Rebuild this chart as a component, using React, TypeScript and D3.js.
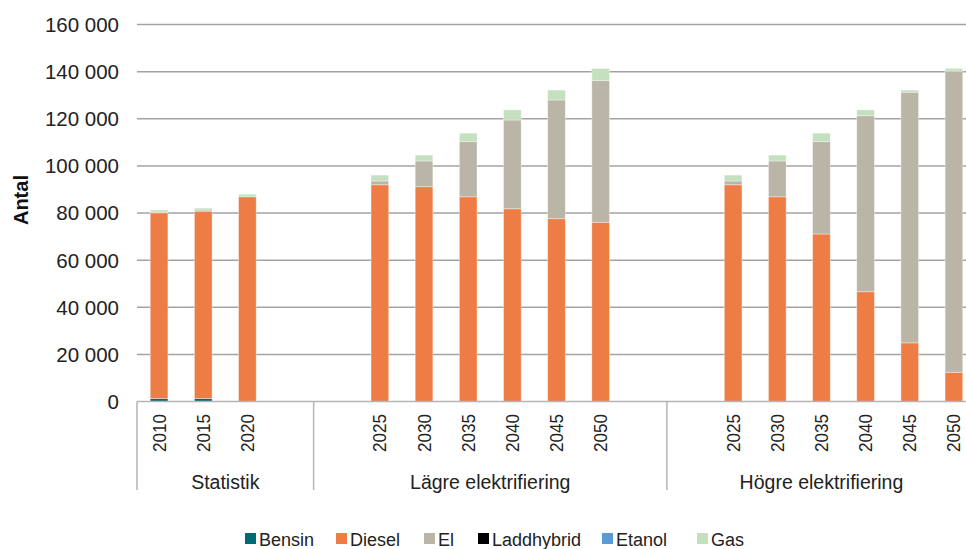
import React from 'react'
import * as d3 from 'd3'

// slot keys along the x axis, blanks keep the gaps between groups
const slots = [
  'S2010', 'S2015', 'S2020', 'gapA',
  'gapB', 'L2025', 'L2030', 'L2035', 'L2040', 'L2045', 'L2050', 'gapC',
  'gapD', 'H2025', 'H2030', 'H2035', 'H2040', 'H2045', 'H2050',
];

const categories = [
  'S2010', 'S2015', 'S2020',
  'L2025', 'L2030', 'L2035', 'L2040', 'L2045', 'L2050',
  'H2025', 'H2030', 'H2035', 'H2040', 'H2045', 'H2050',
];
const yearLabels = [
  '2010', '2015', '2020',
  '2025', '2030', '2035', '2040', '2045', '2050',
  '2025', '2030', '2035', '2040', '2045', '2050',
];

const groupNames = ['Statistik', 'Lägre elektrifiering', 'Högre elektrifiering'];
const groupFirst = ['S2010', 'gapB', 'gapD'];
const groupLast = ['gapA', 'gapC', 'H2050'];

const bensin = [1300, 1300, 0, 0, 0, 0, 0, 0, 0, 0, 0, 0, 0, 0, 0];
const diesel = [78800, 79500, 86900, 92000, 91200, 86900, 81800, 77600, 76100, 92000, 86900, 71100, 46600, 24900, 12400];
const el = [300, 500, 0, 1600, 10900, 23400, 37700, 50400, 60100, 1600, 15200, 39200, 74700, 106400, 127900];
const laddhybrid = [0, 0, 0, 0, 0, 0, 0, 0, 0, 0, 0, 0, 0, 0, 0];
const etanol = [0, 0, 0, 0, 0, 0, 0, 0, 0, 0, 0, 0, 0, 0, 0];
const gas = [900, 800, 1100, 2500, 2500, 3600, 4300, 4200, 5200, 2500, 2500, 3600, 2500, 900, 1100];

const seriesNames = ['Bensin', 'Diesel', 'El', 'Laddhybrid', 'Etanol', 'Gas'];
const seriesValues = [bensin, diesel, el, laddhybrid, etanol, gas];
const seriesColors = ['#006b75', '#ee7d45', '#bbb5a8', '#000000', '#5b9bd5', '#c5e0bf'];

const yTicks = [0, 20000, 40000, 60000, 80000, 100000, 120000, 140000, 160000];

const width = 966;
const height = 549;
const left = 137;
const right = 976;
const top = 24.6;
const bottom = 401.5;
const font = '"Liberation Sans", Arial, sans-serif';
const textColor = '#222';

const locale = d3.formatLocale({ decimal: ',', thousands: ' ', grouping: [3], currency: ['', ''] });
const fmt = locale.format(',');

const table = categories.map((c, i) => {
  const row: any = { cat: c };
  seriesNames.forEach((s, j) => { row[s] = seriesValues[j][i]; });
  return row;
});

const stack = d3.stack().keys(seriesNames)(table as any);

const x = d3.scaleBand<string>()
  .domain(slots)
  .range([left, right])
  .paddingInner(0.6)
  .paddingOuter(0.3);

const y = d3.scaleLinear().domain([0, 160000]).range([bottom, top]);

const step = x.step();
const slotStart = (k: string) => (x(k) as number) + x.bandwidth() / 2 - step / 2;

const legendX = [245, 336, 424, 478, 602, 697];

const App = () => (
  <svg
    width={width}
    height={height}
    style={{ position: 'fixed', left: 0, top: 0, background: '#fff' }}
    fontFamily={font}
  >
    {yTicks.filter(t => t > 0).map(t => (
      <line key={t} x1={left} x2={width} y1={y(t)} y2={y(t)} stroke="#a3a3a3" strokeWidth={1.5} />
    ))}
    {yTicks.map(t => (
      <text key={'l' + t} x={119} y={y(t)} dy="0.36em" textAnchor="end" fontSize={20.5} fill={textColor}>
        {fmt(t)}
      </text>
    ))}
    <text
      transform={`translate(28,${(top + bottom) / 2 - 13}) rotate(-90)`}
      textAnchor="middle"
      fontSize={20}
      fontWeight="bold"
      fill="#111"
    >
      Antal
    </text>

    {stack.map((s, si) => (
      <g key={seriesNames[si]} fill={seriesColors[si]}>
        {s.map((d, i) => (d[1] - d[0] > 0 ? (
          <rect
            key={i}
            x={x(categories[i])}
            y={y(d[1])}
            width={x.bandwidth()}
            height={y(d[0]) - y(d[1])}
            stroke="#ffffff"
            strokeOpacity={0.45}
            strokeWidth={0.8}
          />
        ) : null))}
      </g>
    ))}

    <line x1={left} x2={width} y1={bottom} y2={bottom} stroke="#b5b5b5" strokeWidth={1.5} />
    {groupFirst.map((k, gi) => (
      <line
        key={'sep' + gi}
        x1={slotStart(k)}
        x2={slotStart(k)}
        y1={bottom}
        y2={490}
        stroke="#b5b5b5"
        strokeWidth={1.5}
      />
    ))}

    {categories.map((c, i) => (
      <text
        key={'y' + c}
        transform={`translate(${(x(c) as number) + x.bandwidth() / 2},414) rotate(-90)`}
        dy="0.36em"
        textAnchor="end"
        fontSize={18}
        textLength={38}
        lengthAdjust="spacingAndGlyphs"
        fill={textColor}
      >
        {yearLabels[i]}
      </text>
    ))}

    {groupNames.map((g, gi) => {
      const a = slotStart(groupFirst[gi]);
      const b = slotStart(groupLast[gi]) + step;
      return (
        <text key={g} x={(a + b) / 2} y={489} textAnchor="middle" fontSize={19.5} fill={textColor}>
          {g}
        </text>
      );
    })}

    {seriesNames.map((s, i) => (
      <g key={'leg' + s} transform={`translate(${legendX[i]},533)`}>
        <rect width={11} height={11} fill={seriesColors[i]} />
        <text x={14} y={12.5} fontSize={18} fill={textColor}>{s}</text>
      </g>
    ))}
  </svg>
);

export default App;
